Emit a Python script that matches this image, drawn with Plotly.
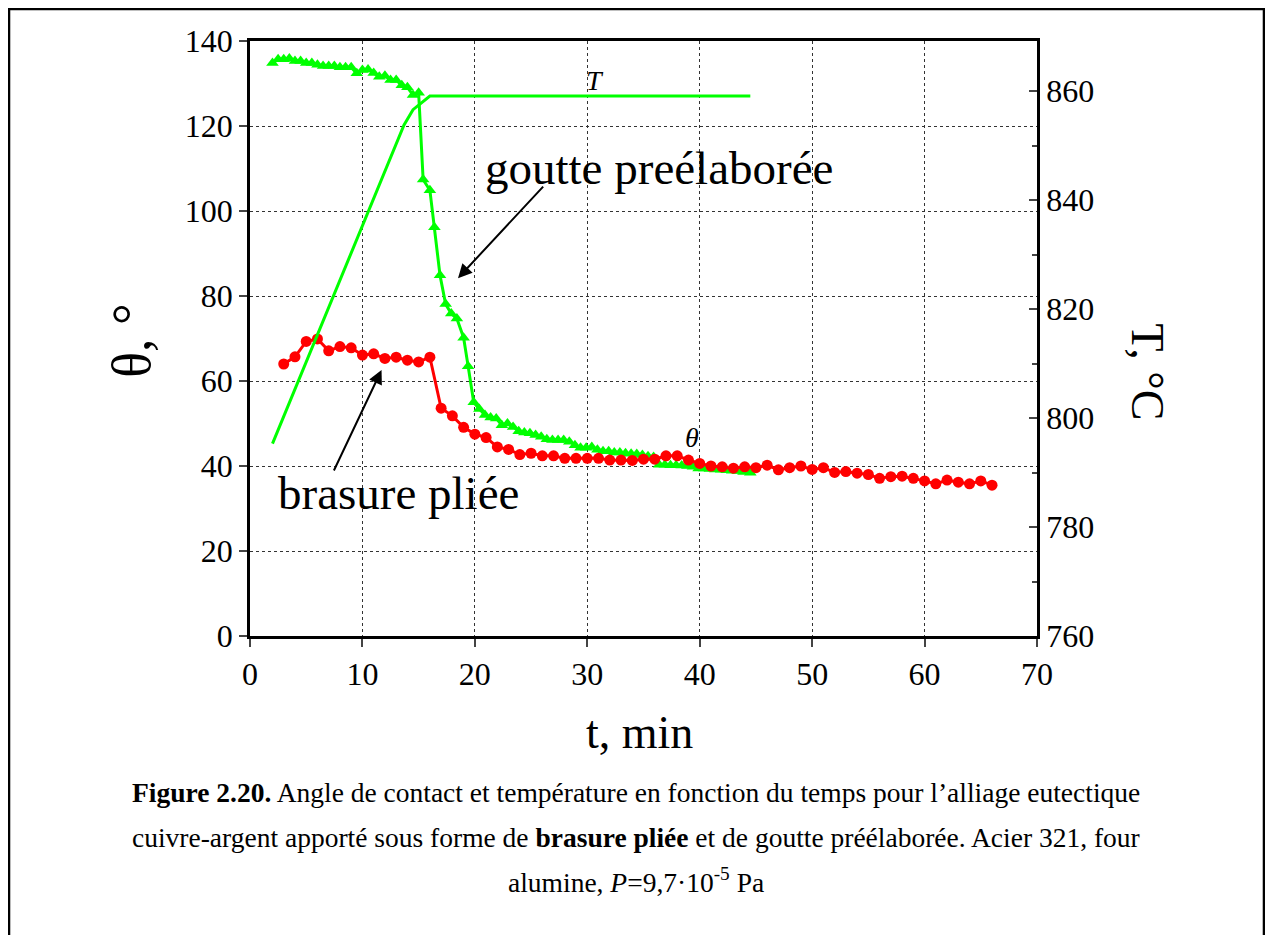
import plotly.graph_objects as go

# brasure pliée: contact angle (red circles), one point per minute
t_brasure = list(range(3, 67))
theta_brasure = [64.0, 65.7, 69.3, 69.9, 67.1, 68.1, 67.8, 66.1, 66.4, 65.3,
                 65.6, 64.9, 64.5, 65.6, 53.6, 51.8, 49.1, 47.5, 46.7, 44.5,
                 43.9, 42.7, 43.0, 42.4, 42.4, 41.8, 41.8, 41.8, 41.8, 41.4,
                 41.4, 41.3, 41.6, 41.6, 42.4, 42.4, 41.4, 40.6, 40.0, 39.8,
                 39.5, 39.8, 39.6, 40.2, 39.1, 39.6, 40.0, 39.2, 39.6, 38.5,
                 38.7, 38.3, 38.0, 37.1, 37.5, 37.6, 37.1, 36.5, 35.8, 36.7,
                 36.2, 35.8, 36.5, 35.5]

# goutte preélaborée: contact angle (green triangles)
t_goutte = [2.0, 2.5, 3.0, 3.5, 4.0, 4.5, 5.0, 5.5, 6.0, 6.5, 7.0, 7.5, 8.0,
            8.5, 9.0, 9.5, 10.0, 10.5, 11.0, 11.5, 12.0, 12.5, 13.0, 13.5,
            14.0, 14.5, 15.0, 15.4, 16.0, 16.4, 16.9, 17.4, 17.9, 18.4, 19.0,
            19.4, 19.9, 20.4, 20.9, 21.4, 21.9, 22.4, 22.9, 23.4, 23.9, 24.4,
            24.9, 25.4, 25.9, 26.4, 26.9, 27.4, 27.9, 28.4, 28.9, 29.4, 29.9,
            30.4, 30.9, 31.4, 31.9, 32.4, 32.9, 33.4, 33.9, 34.4, 34.9, 35.4,
            35.9, 36.4, 36.9, 37.4, 37.9, 38.4, 38.9, 39.4, 39.9, 40.4, 40.9,
            41.4, 41.9, 42.4, 42.9, 43.4, 43.9, 44.5]
theta_goutte = [134.8, 135.7, 135.7, 135.9, 135.3, 135.3, 134.8, 134.8, 134.4,
                134.1, 134.1, 134.1, 133.8, 133.8, 133.8, 132.4, 133.2, 133.3,
                132.5, 131.6, 131.8, 130.8, 130.8, 129.6, 129.1, 127.3, 127.8,
                107.4, 104.9, 96.2, 84.9, 78.1, 75.9, 74.7, 70.2, 63.5, 55.0,
                53.4, 52.0, 51.4, 51.2, 49.6, 50.0, 49.2, 48.2, 47.9, 47.7,
                47.3, 46.9, 46.3, 46.1, 46.1, 46.1, 45.7, 44.9, 44.3, 44.3,
                44.5, 43.8, 43.5, 43.5, 43.2, 43.2, 43.0, 42.9, 42.8, 42.6,
                42.3, 42.1, 40.3, 40.3, 40.2, 40.2, 40.1, 40.0, 39.8, 39.4,
                39.4, 39.3, 39.2, 39.1, 39.0, 38.9, 38.8, 38.6, 38.4]

# temperature T (right axis)
t_temp = [2.0, 13.7, 14.5, 16.0, 44.5]
temp = [795.3, 853.8, 856.6, 859.1, 859.1]

x_ticks = [0, 10, 20, 30, 40, 50, 60, 70]
y_ticks = [0, 20, 40, 60, 80, 100, 120, 140]
y2_ticks = [760, 780, 800, 820, 840, 860]

FONT = "Liberation Serif"
GREEN = "#00ff00"
RED = "#ff0000"

fig = go.Figure()

fig.add_trace(go.Scatter(
    x=t_temp, y=temp, yaxis="y2", mode="lines",
    line=dict(color=GREEN, width=3), name="T"))
fig.add_trace(go.Scatter(
    x=t_goutte, y=theta_goutte, mode="lines+markers",
    line=dict(color=GREEN, width=3),
    marker=dict(symbol="triangle-up", size=11, color=GREEN),
    name="goutte"))
fig.add_trace(go.Scatter(
    x=t_brasure, y=theta_brasure, mode="lines+markers",
    line=dict(color=RED, width=3),
    marker=dict(symbol="circle", size=11, color=RED),
    name="brasure"))

grid = dict(showgrid=True, gridcolor="#333333", griddash="dot", gridwidth=1)

# page body has an 8px margin, so the figure is a bit smaller than the window
fig.update_layout(
    width=1257, height=927,
    margin=dict(l=242, r=228, t=33, b=299),
    paper_bgcolor="white", plot_bgcolor="white",
    showlegend=False,
    font=dict(family=FONT, color="black", size=32),
    xaxis=dict(range=[0, 70], tickvals=x_ticks, ticks="outside", ticklen=8,
               tickwidth=2, linecolor="black", linewidth=2.5, mirror=True,
               zeroline=False, tickfont=dict(size=32), **grid),
    yaxis=dict(range=[0, 140], tickvals=y_ticks, ticks="outside", ticklen=8,
               tickwidth=2, linecolor="black", linewidth=2.5, mirror=True,
               zeroline=False, tickfont=dict(size=32), **grid),
    yaxis2=dict(range=[760, 869.2], tickvals=y2_ticks, overlaying="y",
                side="right", ticks="inside", ticklen=8, tickwidth=2,
                minor=dict(ticks="inside", ticklen=5, dtick=10, tickwidth=2),
                linecolor="black", linewidth=2.5, showgrid=False,
                zeroline=False, tickfont=dict(size=32)),
)

annotations = [
    # axis titles
    dict(text="θ, °", x=-0.19, y=0.497, xref="paper", yref="paper",
         showarrow=False, textangle=-90, font=dict(size=54)),
    dict(text="T, °C", x=1.175, y=0.444, xref="paper", yref="paper",
         showarrow=False, textangle=90, font=dict(size=46)),
    dict(text="t, min", x=0.4955, y=-0.208, xref="paper", yref="paper",
         showarrow=False, font=dict(size=46)),
    # curve labels
    dict(text="<i>T</i>", x=30.7, y=130.8, showarrow=False,
         font=dict(size=28)),
    dict(text="<i>θ</i>", x=39.3, y=46.8, showarrow=False,
         font=dict(size=28)),
    dict(text="goutte preélaborée", x=36.4, y=110.1, showarrow=False,
         font=dict(size=47)),
    dict(text="brasure pliée", x=13.2, y=33.6, showarrow=False,
         font=dict(size=47)),
    # arrows
    dict(x=18.5, y=84.2, ax=26.2, ay=106.1, axref="x", ayref="y",
         text="", showarrow=True, arrowhead=2, arrowsize=1.4, arrowwidth=2,
         arrowcolor="black"),
    dict(x=11.7, y=62.6, ax=7.4, ay=38.6, axref="x", ayref="y",
         text="", showarrow=True, arrowhead=2, arrowsize=1.4, arrowwidth=2,
         arrowcolor="black"),
    # caption
    dict(text="<b>Figure 2.20.</b> Angle de contact et température en fonction "
              "du temps pour l’alliage eutectique",
         x=0.4905, y=-0.292, xref="paper", yref="paper", showarrow=False,
         font=dict(size=27.5)),
    dict(text="cuivre-argent apporté sous forme de <b>brasure pliée</b> et de "
              "goutte préélaborée. Acier 321, four",
         x=0.4905, y=-0.368, xref="paper", yref="paper", showarrow=False,
         font=dict(size=27.5)),
    dict(text="alumine, <i>P</i>=9,7·10<sup>-5</sup> Pa",
         x=0.4905, y=-0.443, xref="paper", yref="paper", showarrow=False,
         font=dict(size=27.5)),
]
fig.update_layout(annotations=annotations)

# frame around the whole figure (kept inside the figure so it is not clipped)
fig.add_shape(type="rect", xref="paper", yref="paper",
              x0=-0.3062, x1=1.2884, y0=-0.53, y1=1.0538,
              line=dict(color="black", width=2.5))

fig.write_html("out.html")
